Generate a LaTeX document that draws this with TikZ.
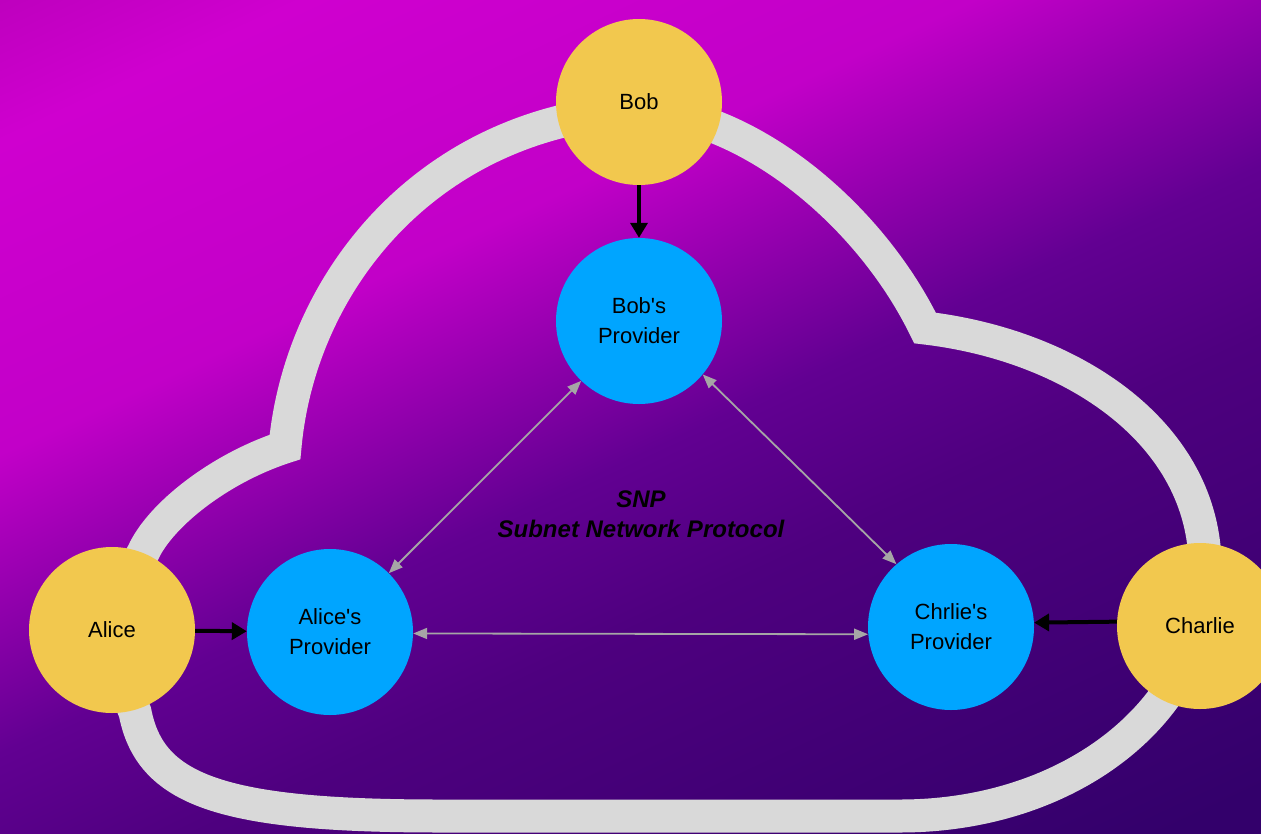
\documentclass[tikz,border=0pt]{standalone}
\usepackage{fontspec}
\setmainfont{Liberation Sans}
\usetikzlibrary{arrows.meta}
\definecolor{bgA}{HTML}{BE00BE}
\definecolor{bgB}{HTML}{CF00CF}
\definecolor{bgC}{HTML}{C200C8}
\definecolor{bgD}{HTML}{620092}
\definecolor{bgE}{HTML}{4E007F}
\definecolor{bgF}{HTML}{33006B}
\definecolor{personc}{HTML}{F2C84E}
\definecolor{providerc}{HTML}{00A5FF}
\definecolor{cloudc}{HTML}{D9D9D9}
\definecolor{linkc}{HTML}{A6A6A6}
\pgfdeclareverticalshading{bgshade}{100bp}{color(0bp)=(bgF); color(18.8bp)=(bgF); color(40bp)=(bgE); color(48bp)=(bgD); color(62bp)=(bgC); color(76.6bp)=(bgB); color(83.2bp)=(bgA); color(100bp)=(bgA)}
\tikzset{
  person/.style={circle, fill=personc, minimum size=166pt, inner sep=0pt, align=center, text=black, font=\fontsize{22}{30}\selectfont},
  provider/.style={circle, fill=providerc, minimum size=166pt, inner sep=0pt, align=center, text=black, font=\fontsize{22}{30}\selectfont},
  cloudline/.style={draw=cloudc, line width=33pt, line join=miter},
  feed/.style={draw=black, line width=4pt, -{Triangle[length=15pt,width=17pt]}},
  link/.style={draw=linkc, line width=1.8pt, {Triangle[length=14pt,width=11pt]}-{Triangle[length=14pt,width=11pt]}},
  title/.style={align=center, text=black, font=\fontsize{24}{30}\selectfont\bfseries\itshape}
}
\begin{document}
\begin{tikzpicture}[x=1pt,y=-1pt]
\useasboundingbox (0,0) rectangle (1261,833);
\begin{scope}
\clip (0,0) rectangle (1261,833);
\shade[shading=bgshade, shading angle=25] (0,0) rectangle (1261,833);
% cloud outline
\draw[cloudline] (285,447)
  .. controls (300,280) and (430,120) .. (640,110)
  .. controls (750,115) and (870,215) .. (925,328)
  .. controls (1070,345) and (1200,430) .. (1205,560)
  .. controls (1215,700) and (1080,816) .. (900,816)
  -- (440,816)
  .. controls (220,816) and (150,790) .. (135,712)
  .. controls (120,680) and (115,600) .. (143,553)
  .. controls (160,515) and (220,468) .. cycle;
% nodes
\node[person] (bob) at (639,102) {Bob};
\node[provider] (bp) at (639,321) {Bob\textquotesingle s\\Provider};
\node[person] (alice) at (112,630) {Alice};
\node[provider] (ap) at (330,632) {Alice\textquotesingle s\\Provider};
\node[provider] (cp) at (951,627) {Chrlie\textquotesingle s\\Provider};
\node[person] (charlie) at (1200,626) {Charlie};
\node[title] (snp) at (641,514) {SNP\\Subnet Network Protocol};
% connectors
\draw[feed] (bob) -- (bp);
\draw[feed] (alice) -- (ap);
\draw[feed] (charlie.177) -- (cp.3);
\draw[link] (bp.226) -- (ap.45);
\draw[link] (bp.320) -- (cp.131);
\draw[link] (ap.-1) -- (cp.185);
\end{scope}
\end{tikzpicture}
\end{document}
